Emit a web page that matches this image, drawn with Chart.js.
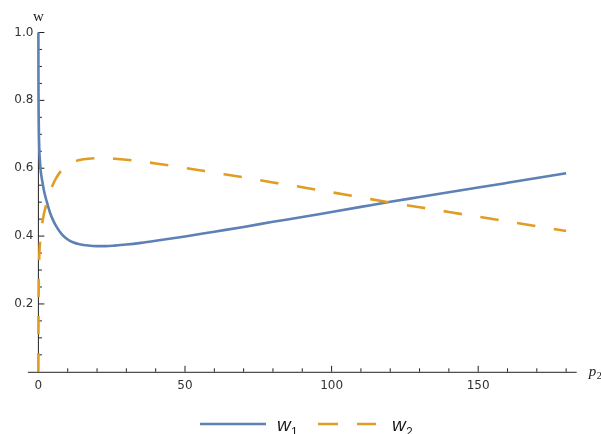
<!DOCTYPE html>
<html>
<head>
<meta charset="utf-8">
<script src="https://cdn.jsdelivr.net/npm/chart.js@4/dist/chart.umd.min.js"></script>
<style>
  html, body { margin: 0; padding: 0; background: #ffffff; }
  #wrap { width: 601px; height: 434px; position: relative; }
</style>
</head>
<body>
<div id="wrap"><canvas id="c" width="601" height="434"></canvas></div>
<script>
// p2 sample positions
const pValues = [0, 0.02, 0.05, 0.1, 0.2, 0.35, 0.5, 0.75, 1, 1.5, 2, 3, 4, 5, 6, 8, 10, 12, 14, 17,
                 20, 23, 26, 30, 35, 40, 50, 60, 70, 80, 90, 100, 110, 120, 130, 140, 150, 160, 170, 180];
// weight w1
const w1Values = [1.0, 0.88, 0.81, 0.75, 0.69, 0.645, 0.625, 0.595, 0.578, 0.553, 0.53, 0.497, 0.468, 0.447, 0.43, 0.405, 0.39, 0.381, 0.376, 0.372,
                  0.3705, 0.3705, 0.372, 0.375, 0.38, 0.386, 0.399, 0.413, 0.427, 0.442, 0.456, 0.471, 0.486, 0.501, 0.515, 0.529, 0.543, 0.557, 0.571, 0.585];
// weight w2
const w2Values = [0.0, 0.12, 0.19, 0.25, 0.31, 0.355, 0.375, 0.405, 0.422, 0.447, 0.47, 0.503, 0.532, 0.553, 0.57, 0.595, 0.61, 0.619, 0.624, 0.628,
                  0.6295, 0.6295, 0.628, 0.625, 0.62, 0.614, 0.601, 0.587, 0.573, 0.558, 0.544, 0.529, 0.514, 0.499, 0.485, 0.471, 0.457, 0.443, 0.429, 0.415];

// axis ticks
const xMajorTicks = [0, 50, 100, 150];
const xMinorTicks = [10, 20, 30, 40, 60, 70, 80, 90, 110, 120, 130, 140, 160, 170, 180];
const yMajorTicks = [0.2, 0.4, 0.6, 0.8, 1.0];
const yMajorLabels = ['0.2', '0.4', '0.6', '0.8', '1.0'];
const yMinorTicks = [0.05, 0.1, 0.15, 0.25, 0.3, 0.35, 0.45, 0.5, 0.55, 0.65, 0.7, 0.75, 0.85, 0.9, 0.95];

const BLUE = '#5E81B5';
const ORANGE = '#E19C24';
const AXIS = '#222222';
const LABEL = '#333333';

const toPoints = (xs, ys) => xs.map((x, i) => ({ x: x, y: ys[i] }));

// Axes through the origin with inward ticks, drawn beneath the curves
const originAxes = {
  id: 'originAxes',
  beforeDatasetsDraw(chart) {
    const ctx = chart.ctx;
    const xs = chart.scales.x, ys = chart.scales.y;
    const x0 = xs.getPixelForValue(0);
    const y0 = ys.getPixelForValue(0);
    ctx.save();
    ctx.strokeStyle = AXIS;
    ctx.lineWidth = 1;
    ctx.beginPath();
    ctx.moveTo(xs.left, y0 + 0.5); ctx.lineTo(xs.right, y0 + 0.5);
    ctx.moveTo(x0, ys.getPixelForValue(1)); ctx.lineTo(x0, y0);
    ctx.stroke();

    ctx.beginPath();
    xMajorTicks.forEach(v => { const p = xs.getPixelForValue(v); ctx.moveTo(p, y0); ctx.lineTo(p, y0 - 6); });
    xMinorTicks.forEach(v => { const p = xs.getPixelForValue(v); ctx.moveTo(p, y0); ctx.lineTo(p, y0 - 3.5); });
    yMajorTicks.forEach(v => { const p = ys.getPixelForValue(v); ctx.moveTo(x0, p); ctx.lineTo(x0 + 6, p); });
    yMinorTicks.forEach(v => { const p = ys.getPixelForValue(v); ctx.moveTo(x0, p); ctx.lineTo(x0 + 3.5, p); });
    ctx.stroke();

    ctx.fillStyle = LABEL;
    ctx.font = '12px "DejaVu Sans"';
    ctx.textAlign = 'center';
    ctx.textBaseline = 'middle';
    xMajorTicks.forEach(v => ctx.fillText(String(v), xs.getPixelForValue(v), y0 + 14));
    ctx.textAlign = 'right';
    yMajorTicks.forEach((v, i) => ctx.fillText(yMajorLabels[i], x0 - 5, ys.getPixelForValue(v)));

    // axis names
    ctx.fillStyle = '#222222';
    ctx.font = '15px "Liberation Serif"';
    ctx.textAlign = 'center';
    ctx.textBaseline = 'alphabetic';
    ctx.fillText('w', x0, 20.5);
    ctx.textAlign = 'left';
    ctx.font = 'italic 15px "Liberation Serif"';
    ctx.fillText('p', xs.right + 12, y0 + 4);
    ctx.font = '10px "Liberation Serif"';
    ctx.fillText('2', xs.right + 20, y0 + 7);
    ctx.restore();
  },
  afterDraw(chart) {
    const ctx = chart.ctx;
    const ly = 424;
    ctx.save();
    ctx.lineWidth = 2.5;
    ctx.lineCap = 'butt';
    ctx.strokeStyle = BLUE;
    ctx.beginPath(); ctx.moveTo(200, ly); ctx.lineTo(266, ly); ctx.stroke();
    ctx.strokeStyle = ORANGE;
    ctx.beginPath();
    ctx.moveTo(318, ly); ctx.lineTo(338, ly);
    ctx.moveTo(357, ly); ctx.lineTo(376, ly);
    ctx.stroke();

    ctx.fillStyle = '#1a1a1a';
    ctx.textAlign = 'left';
    ctx.textBaseline = 'alphabetic';
    ctx.font = 'italic 19px "Liberation Sans"';
    ctx.fillText('w', 277, 431);
    ctx.fillText('w', 392, 431);
    ctx.font = '12px "Liberation Sans"';
    ctx.fillText('1', 291, 436);
    ctx.fillText('2', 406, 436);
    ctx.restore();
  }
};

new Chart(document.getElementById('c'), {
  type: 'line',
  data: {
    datasets: [
      {
        label: 'w1',
        data: toPoints(pValues, w1Values),
        borderColor: BLUE,
        borderWidth: 2.6,
        pointRadius: 0,
        cubicInterpolationMode: 'monotone',
        fill: false,
        clip: false,
        order: 1
      },
      {
        label: 'w2',
        data: toPoints(pValues, w2Values),
        borderColor: ORANGE,
        borderWidth: 2.6,
        borderDash: [18.5, 18.7],
        borderCapStyle: 'butt',
        pointRadius: 0,
        cubicInterpolationMode: 'monotone',
        fill: false,
        clip: false,
        order: 0
      }
    ]
  },
  options: {
    responsive: false,
    animation: false,
    devicePixelRatio: 1,
    layout: { padding: { left: 27.85, right: 24.3, top: 32.5, bottom: 62.2 } },
    scales: {
      x: { type: 'linear', min: -3.6, max: 183.6, display: false },
      y: { type: 'linear', min: 0, max: 1, display: false }
    },
    plugins: {
      legend: { display: false },
      tooltip: { enabled: false }
    }
  },
  plugins: [originAxes]
});
</script>
</body>
</html>
